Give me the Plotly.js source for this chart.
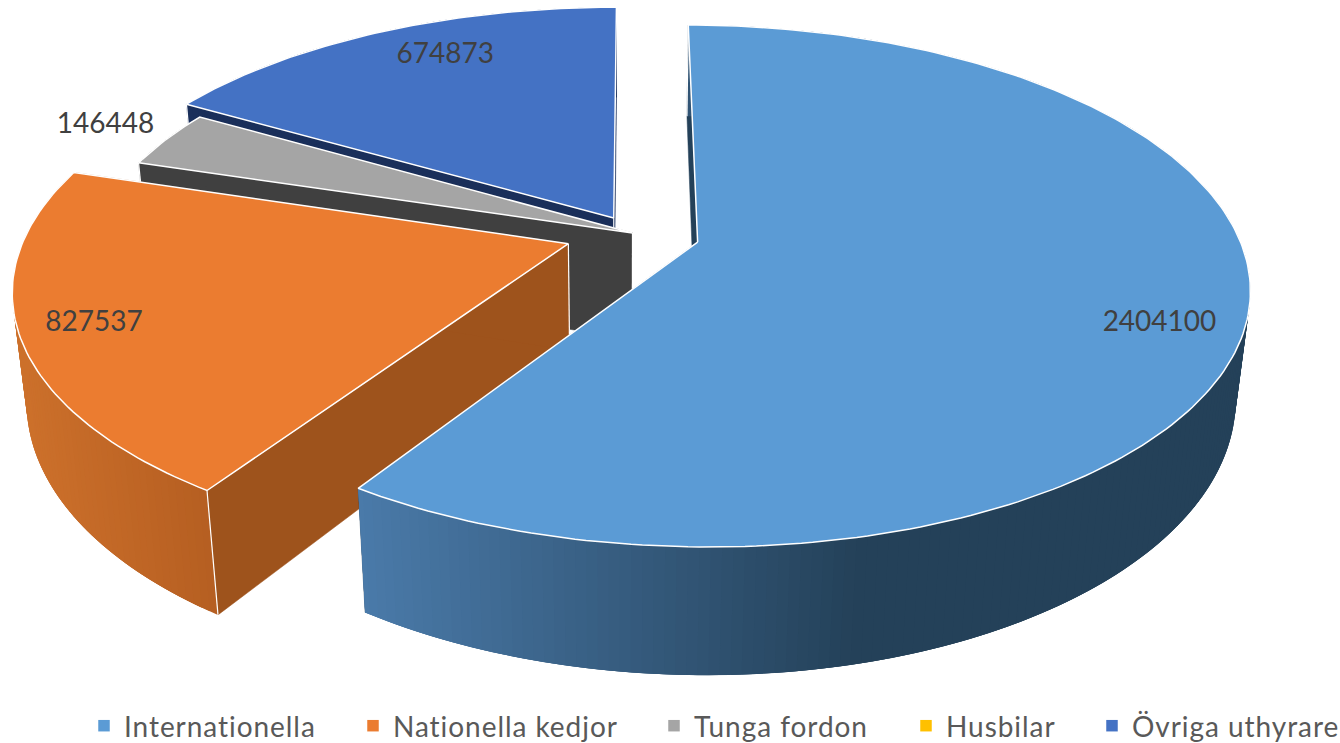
<!DOCTYPE html>
<html><head><meta charset="utf-8">
<script src="https://cdn.plot.ly/plotly-3.0.1.min.js"></script>
<style>html,body{margin:0;padding:0;background:#fff}#c{width:1340px;height:743px}
.legendtext,.legend2text,.legend3text,.legend4text,.legend5text{letter-spacing:0.95px}</style>
</head><body><div id="c"></div>
<script>
// ---- data ----
const categories = ["Internationella","Nationella kedjor","Tunga fordon","Husbilar","Övriga uthyrare"];
const values = [2404100,827537,146448,0,674873];
// ---- per-slice style ----
const topColors  = ["#5b9bd5","#eb7c30","#a5a5a5","#ffc000","#4472c4"];
const sideColors = ["#244159","#9e531c","#404040","#7f6000","#1a2f5a"];
const explosion  = [0.125,0.125,0,0,0.07];
const labelRadius = [0.855,0.87,1.152,0,0.836];
const labelTurn   = [3.5,0.3,0.8,0,4.6];
const drawOrder   = [4,2,1,0];
const legendLeft  = [84,353,654,906,1092];
// ---- projection of the tilted pie ----
const P = {cx:632.5, cy:233, R:541, S:250.6, d:0, k:0.1673, m:0.002, H:106, vx:622, vd:4700, labelDrop:3};
const rad = a => a*Math.PI/180;
function project(X,Y){const w=1+P.k*Y+P.m*X;return [P.cx+(P.R*X+P.d*Y)/w, P.cy-P.S*Y/w, w];}
function drop(p){const dy=P.H/p[2];return [p[0]+(P.vx-p[0])*dy/P.vd, p[1]+dy];}
const total = values.reduce((a,b)=>a+b,0);
let run=0;
const slices = values.map((v,i)=>{
  const a0=run/total*360; run+=v; const a1=run/total*360; const m=(a0+a1)/2;
  return {i,a0,a1,m,ox:explosion[i]*Math.sin(rad(m)),oy:explosion[i]*Math.cos(rad(m))};
});
const rim=(s,a)=>project(s.ox+Math.sin(rad(a)),s.oy+Math.cos(rad(a)));
const apex=s=>project(s.ox,s.oy);
function mix(c1,c2,t){const f=h=>[1,3,5].map(j=>parseInt(h.substr(j,2),16));const a=f(c1),b=f(c2);
  return "rgb("+a.map((v,j)=>Math.round(v+(b[j]-v)*t)).join(",")+")";}
function wallColor(i,x){
  if(i===0){const t=Math.min(1,Math.max(0,(x-360)/(860-360)));return mix("#4a7aa9","#244159",t);}
  if(i===1){const t=Math.min(1,Math.max(0,(x-20)/(215-20)));return mix("#cc702b","#b55e21",t);}
  return sideColors[i];
}
const traces=[];
function poly(pts,fill,line,width){
  traces.push({type:"scatter",mode:"lines",x:pts.map(p=>p[0]),y:pts.map(p=>p[1]),fill:"toself",fillcolor:fill,
    line:{color:line,width:width},hoverinfo:"skip",showlegend:false});
}
function edge(a,b,color,width){
  traces.push({type:"scatter",mode:"lines",x:[a[0],b[0]],y:[a[1],b[1]],line:{color:color,width:width},hoverinfo:"skip",showlegend:false});
}
drawOrder.forEach(i=>{
  const s=slices[i]; const c=apex(s), step=1;
  const A=rim(s,s.a0), B=rim(s,s.a1);
  // straight cut walls
  [A,B].forEach(q=>{poly([c,q,drop(q),drop(c),c],sideColors[i],sideColors[i],0.5);});
  // outer wall as shaded strips, each overlapping the next so no seams show
  const strip=(a,e,col)=>{const pts=[];
    for(let t=a;t<e;t+=0.5)pts.push(rim(s,t));pts.push(rim(s,e));
    const low=pts.map(drop).reverse();const all=pts.concat(low,[pts[0]]);
    poly(all,col,col,0);};
  for(let a=s.a0;a<s.a1-1e-6;a+=step){
    const e=Math.min(a+step*3,s.a1);
    const p=rim(s,a),q=rim(s,Math.min(a+step,s.a1));
    strip(a,e,wallColor(i,(p[0]+q[0])/2));
  }
  // bright vertical corners
  edge(A,drop(A),"#ffffff",1.2);
  edge(c,drop(c),"#ffffff",1.2);
  // top face
  const top=[c];
  for(let a=s.a0;a<s.a1;a+=1)top.push(rim(s,a));
  top.push(B,c);
  poly(top,topColors[i],"#ffffff",1.5);
});
// value labels
const lab=slices.filter(s=>values[s.i]>0).map(s=>{
  const a=s.m+labelTurn[s.i],r=labelRadius[s.i];
  const p=project(s.ox+r*Math.sin(rad(a)),s.oy+r*Math.cos(rad(a)));
  return {x:p[0],y:p[1]+P.labelDrop,t:String(values[s.i])};
});
traces.push({type:"scatter",mode:"text",x:lab.map(l=>l.x),y:lab.map(l=>l.y),text:lab.map(l=>l.t),
  textposition:"middle center",textfont:{family:"Lato, sans-serif",size:28,color:"#404040"},hoverinfo:"skip",showlegend:false});
// legend entries, one floating legend per category
const layout={width:1340,height:743,margin:{l:0,r:0,t:0,b:0,autoexpand:false},paper_bgcolor:"#fff",plot_bgcolor:"#fff",
  xaxis:{range:[0,1340],visible:false,fixedrange:true},
  yaxis:{range:[743,0],visible:false,fixedrange:true},showlegend:true};
categories.forEach((name,i)=>{
  const key=i===0?"legend":"legend"+(i+1);
  traces.push({type:"scatter",mode:"markers",name:name,x:[null],y:[null],legend:key,
    marker:{symbol:"square",size:11.5,color:topColors[i]}});
  layout[key]={x:legendLeft[i]/1340,y:(743-726)/743,xanchor:"left",yanchor:"middle",bgcolor:"rgba(0,0,0,0)",
    orientation:"h",font:{family:"Lato, sans-serif",size:28,color:"#595959"}};
});
Plotly.newPlot("c",traces,layout,{displayModeBar:false,responsive:false});
</script></body></html>
